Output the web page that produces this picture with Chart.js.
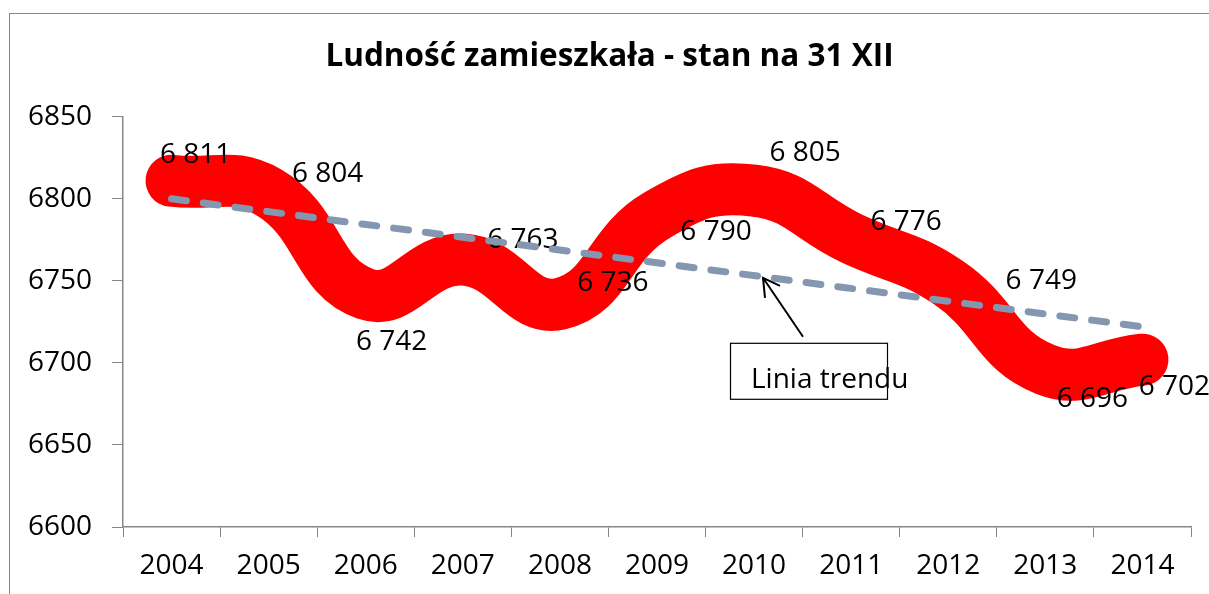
<!DOCTYPE html>
<html lang="pl">
<head>
<meta charset="utf-8">
<script src="https://cdn.jsdelivr.net/npm/chart.js@4"></script>
<style>
  html, body { margin: 0; padding: 0; background: #ffffff; overflow: hidden; }
  #wrap { position: relative; width: 1209px; height: 594px; }
</style>
</head>
<body>
<div id="wrap"><canvas id="chart"></canvas></div>
<script>
// Dane
const lata = ["2004", "2005", "2006", "2007", "2008", "2009", "2010", "2011", "2012", "2013", "2014"];
const ludnosc = [6811, 6804, 6742, 6763, 6736, 6790, 6805, 6776, 6749, 6696, 6702];
// linia trendu: tylko końce, środek rysuje biblioteka (spanGaps)
const trend = [6800, null, null, null, null, null, null, null, null, null, 6722];
const osY = [6600, 6650, 6700, 6750, 6800, 6850];

const FONT = "'Open Sans', 'Liberation Sans', sans-serif";
const AXIS = "#878787";

// przesunięcia etykiet danych względem punktu (px)
const przesuniecia = [
  [24, -26], [59, -18], [26, 48], [60, -20], [53, -21], [59, 17],
  [51, -38], [55, -16], [93, -1], [47, 30], [32, 27]
];

function formatuj(v) {
  return String(v).replace(/\B(?=(\d{3})+(?!\d))/g, " ");
}

// ramka wykresu
const ramka = {
  id: "ramka",
  beforeDraw(chart) {
    const ctx = chart.ctx;
    ctx.save();
    ctx.strokeStyle = AXIS;
    ctx.lineWidth = 1;
    ctx.strokeRect(9.5, 13.5, 3000, 3000);
    ctx.restore();
  }
};

// etykiety danych - rysowane zaraz po czerwonej serii, przed linią trendu
const etykiety = {
  id: "etykiety",
  afterDatasetDraw(chart, args) {
    if (args.index !== 1) return;
    const ctx = chart.ctx;
    ctx.save();
    ctx.font = "28px " + FONT;
    ctx.fillStyle = "#000000";
    ctx.textAlign = "center";
    ctx.textBaseline = "middle";
    args.meta.data.forEach((pt, i) => {
      const o = przesuniecia[i];
      ctx.fillText(formatuj(ludnosc[i]), pt.x + o[0], pt.y + o[1]);
    });
    ctx.restore();
  }
};

// objaśnienie "Linia trendu" ze strzałką
const objasnienie = {
  id: "objasnienie",
  afterDraw(chart) {
    const ctx = chart.ctx;
    const a = chart.chartArea;
    const bx = a.left + 607, by = a.top + 226, bw = 157, bh = 56;
    ctx.save();
    ctx.strokeStyle = "#000000";
    ctx.lineWidth = 1.2;
    ctx.strokeRect(bx + 0.5, by + 0.5, bw, bh);
    ctx.font = "28px " + FONT;
    ctx.fillStyle = "#000000";
    ctx.textBaseline = "alphabetic";
    ctx.fillText("Linia trendu", bx + 21, by + 45);
    // strzałka
    const sx = a.left + 680, sy = a.top + 220;
    const tx = a.left + 640, ty = a.top + 161;
    ctx.lineWidth = 2;
    ctx.beginPath();
    ctx.moveTo(sx, sy);
    ctx.lineTo(tx, ty);
    ctx.moveTo(tx + 17, ty + 8);
    ctx.lineTo(tx, ty);
    ctx.lineTo(tx + 2, ty + 20);
    ctx.stroke();
    ctx.restore();
  }
};

new Chart(document.getElementById("chart"), {
  type: "line",
  data: {
    labels: lata,
    datasets: [
      {
        label: "Linia trendu",
        data: trend,
        spanGaps: true,
        borderColor: "#8497b0",
        borderWidth: 7,
        borderDash: [15, 17],
        borderCapStyle: "round",
        pointRadius: 0,
        fill: false,
        tension: 0
      },
      {
        label: "Ludność zamieszkała",
        data: ludnosc,
        borderColor: "#ff0000",
        backgroundColor: "#ff0000",
        borderWidth: 52,
        borderCapStyle: "round",
        borderJoinStyle: "round",
        pointRadius: 0,
        fill: false,
        tension: 0.45
      }
    ]
  },
  options: {
    responsive: true,
    maintainAspectRatio: false,
    animation: false,
    devicePixelRatio: 1,
    layout: { padding: { left: 28, right: 18, top: 0, bottom: 0 } },
    plugins: {
      legend: { display: false },
      tooltip: { enabled: false },
      title: {
        display: true,
        text: "Ludność zamieszkała - stan na 31 XII",
        color: "#000000",
        font: { family: FONT, size: 31.5, weight: "bold", lineHeight: 1.2 },
        padding: { top: 38, bottom: 41 }
      }
    },
    scales: {
      x: {
        offset: true,
        grid: { offset: true, drawOnChartArea: false, drawTicks: true, tickLength: 10, color: AXIS },
        border: { color: AXIS, width: 1.5 },
        ticks: { color: "#000000", font: { family: FONT, size: 28 }, padding: 12, maxRotation: 0 },
        afterFit(scale) { scale.height = 67; }
      },
      y: {
        min: osY[0],
        max: osY[osY.length - 1],
        afterBuildTicks(scale) { scale.ticks = osY.map(v => ({ value: v })); },
        grid: { drawOnChartArea: false, drawTicks: true, tickLength: 11, color: AXIS },
        border: { color: AXIS, width: 1.5 },
        ticks: {
          color: "#000000",
          font: { family: FONT, size: 28 },
          padding: 20,
          callback: v => String(v)
        },
        afterFit(scale) { scale.width = 95; }
      }
    }
  },
  plugins: [ramka, etykiety, objasnienie]
});
</script>
</body>
</html>
